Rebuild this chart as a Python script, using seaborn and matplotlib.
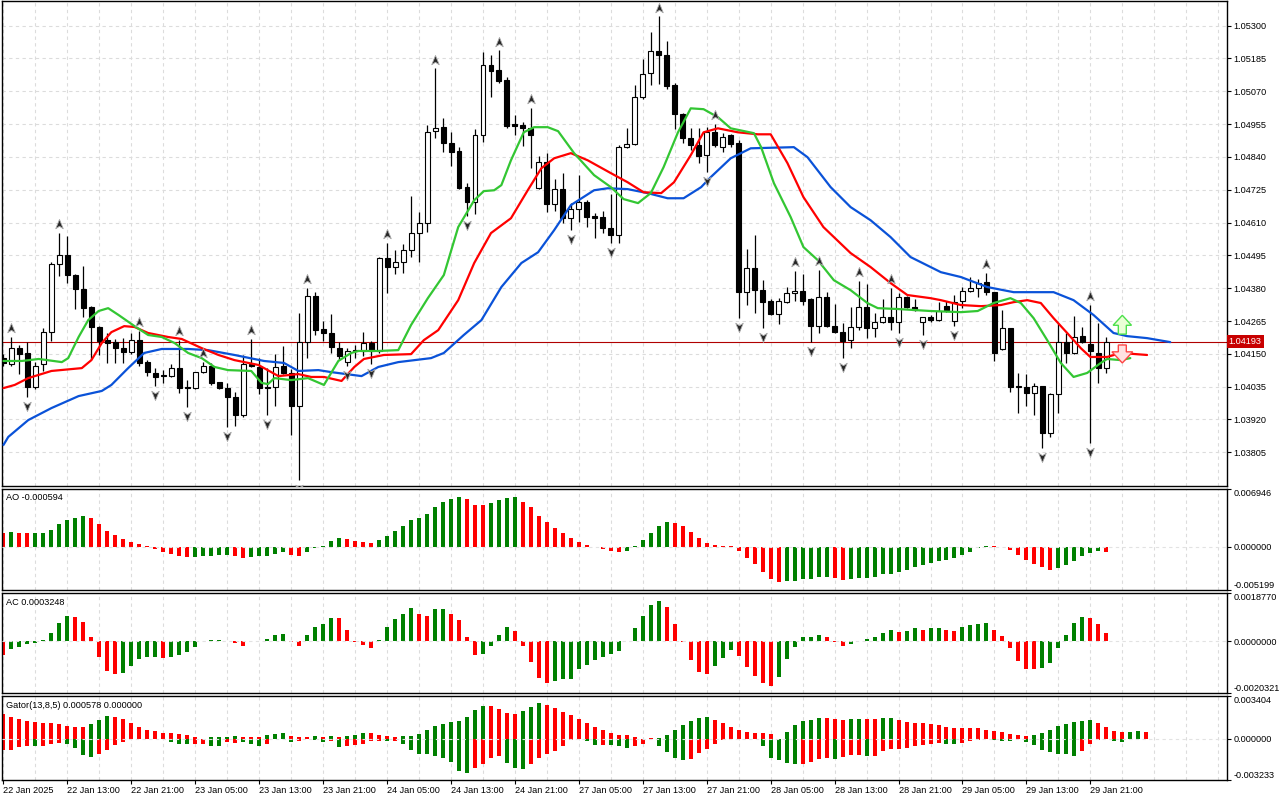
import numpy as np
import pandas as pd
import matplotlib
matplotlib.use("Agg")
import matplotlib.pyplot as plt
import matplotlib.transforms as mtransforms
from matplotlib.path import Path
from matplotlib.patches import FancyArrow
import seaborn as sns

# ---------------- data (EURUSD H1) ----------------
opens = [1.04135,1.04114,1.04170,1.04153,1.04034,1.04114,1.04226,1.04464,1.04496,1.04426,
         1.04377,1.04314,1.04244,1.04198,1.04191,1.04170,1.04156,1.04198,1.04121,1.04083,
         1.04076,1.04072,1.04100,1.04034,1.04030,1.04086,1.04107,1.04051,1.04030,1.03999,
         1.03936,1.04114,1.04104,1.04034,1.04034,1.04107,1.04083,1.03967,1.04191,1.04352,
         1.04237,1.04223,1.04170,1.04121,1.04163,1.04160,1.04188,1.04160,1.04485,1.04454,
         1.04471,1.04513,1.04573,1.04608,1.04930,1.04944,1.04888,1.04860,1.04734,1.04681,
         1.04916,1.05161,1.05143,1.05108,1.04954,1.04951,1.04940,1.04730,1.04821,1.04674,
         1.04727,1.04625,1.04657,1.04681,1.04632,1.04629,1.04590,1.04566,1.04874,1.04884,
         1.05049,1.05133,1.05210,1.05196,1.05091,1.04989,1.04905,1.04881,1.04846,1.04926,
         1.04874,1.04916,1.04888,1.04366,1.04450,1.04373,1.04335,1.04289,1.04331,1.04363,
         1.04370,1.04342,1.04247,1.04349,1.04247,1.04226,1.04198,1.04244,1.04314,1.04240,
         1.04261,1.04279,1.04261,1.04349,1.04314,1.04261,1.04279,1.04268,1.04317,1.04265,
         1.04335,1.04370,1.04380,1.04401,1.04366,1.04167,1.04240,1.04037,1.04034,1.04013,
         1.04037,1.03873,1.04009,1.04191,1.04153,1.04212,1.04184,1.04153,1.04100]
highs = [1.04149,1.04209,1.04181,1.04191,1.04121,1.04240,1.04471,1.04573,1.04562,1.04428,
         1.04457,1.04317,1.04246,1.04223,1.04202,1.04205,1.04222,1.04230,1.04128,1.04100,
         1.04093,1.04114,1.04198,1.04058,1.04088,1.04121,1.04118,1.04053,1.04048,1.04016,
         1.04146,1.04202,1.04135,1.04100,1.04149,1.04177,1.04097,1.04293,1.04380,1.04366,
         1.04265,1.04289,1.04191,1.04170,1.04181,1.04226,1.04195,1.04489,1.04538,1.04513,
         1.04534,1.04702,1.04646,1.04951,1.05150,1.04975,1.04926,1.04874,1.04748,1.04937,
         1.05206,1.05196,1.05213,1.05119,1.04986,1.04961,1.05010,1.04842,1.04853,1.04762,
         1.04783,1.04678,1.04776,1.04688,1.04643,1.04650,1.04709,1.04881,1.04940,1.05091,
         1.05182,1.05276,1.05332,1.05245,1.05098,1.04993,1.04940,1.04940,1.04944,1.04954,
         1.04923,1.04920,1.04898,1.04517,1.04566,1.04408,1.04342,1.04345,1.04384,1.04440,
         1.04429,1.04344,1.04443,1.04366,1.04324,1.04258,1.04314,1.04405,1.04394,1.04293,
         1.04342,1.04380,1.04363,1.04352,1.04342,1.04280,1.04286,1.04331,1.04335,1.04356,
         1.04384,1.04419,1.04412,1.04433,1.04368,1.04303,1.04242,1.04083,1.04079,1.04048,
         1.04039,1.04013,1.04258,1.04223,1.04282,1.04244,1.04321,1.04258,1.04209]
lows = [1.04107,1.04107,1.04079,1.03999,1.04027,1.04090,1.04195,1.04422,1.04398,1.04307,
        1.04279,1.04132,1.04146,1.04118,1.04118,1.04118,1.04149,1.04107,1.04072,1.04037,
        1.04048,1.04069,1.04013,1.03964,1.04027,1.04083,1.04041,1.04027,1.03894,1.03897,
        1.03929,1.04104,1.04009,1.03936,1.03967,1.04081,1.03866,1.03708,1.04135,1.04216,
        1.04195,1.04153,1.04128,1.04107,1.04135,1.04142,1.04114,1.04153,1.04363,1.04429,
        1.04433,1.04489,1.04471,1.04576,1.04905,1.04856,1.04807,1.04727,1.04632,1.04639,
        1.04891,1.05049,1.05098,1.04940,1.04916,1.04877,1.04800,1.04727,1.04646,1.04650,
        1.04608,1.04583,1.04611,1.04594,1.04555,1.04573,1.04538,1.04540,1.04870,1.04881,
        1.05042,1.05091,1.05094,1.05077,1.04937,1.04888,1.04863,1.04818,1.04786,1.04874,
        1.04856,1.04874,1.04275,1.04321,1.04293,1.04240,1.04286,1.04254,1.04328,1.04335,
        1.04321,1.04191,1.04223,1.04244,1.04224,1.04135,1.04170,1.04233,1.04205,1.04209,
        1.04258,1.04233,1.04223,1.04310,1.04300,1.04216,1.04261,1.04265,1.04296,1.04247,
        1.04310,1.04366,1.04349,1.04356,1.04125,1.04163,1.04016,1.03943,1.03967,1.03936,
        1.03820,1.03859,1.03943,1.04118,1.04149,1.04188,1.03838,1.04048,1.04083]
closes = [1.04118,1.04170,1.04149,1.04034,1.04107,1.04226,1.04464,1.04496,1.04426,1.04377,
          1.04310,1.04244,1.04195,1.04188,1.04170,1.04156,1.04198,1.04118,1.04086,1.04069,
          1.04072,1.04100,1.04030,1.04030,1.04086,1.04107,1.04048,1.04030,1.03999,1.03936,
          1.04114,1.04107,1.04030,1.04030,1.04104,1.04083,1.03967,1.04191,1.04352,1.04233,
          1.04223,1.04174,1.04142,1.04160,1.04160,1.04188,1.04160,1.04485,1.04454,1.04471,
          1.04513,1.04573,1.04608,1.04926,1.04940,1.04888,1.04856,1.04730,1.04681,1.04916,
          1.05161,1.05140,1.05105,1.04947,1.04947,1.04940,1.04916,1.04821,1.04674,1.04727,
          1.04625,1.04657,1.04681,1.04629,1.04625,1.04590,1.04566,1.04874,1.04884,1.05049,
          1.05129,1.05210,1.05196,1.05087,1.04989,1.04905,1.04881,1.04842,1.04926,1.04881,
          1.04909,1.04884,1.04366,1.04450,1.04373,1.04331,1.04289,1.04335,1.04363,1.04370,
          1.04335,1.04247,1.04349,1.04247,1.04226,1.04195,1.04244,1.04314,1.04240,1.04261,
          1.04279,1.04261,1.04349,1.04314,1.04303,1.04279,1.04268,1.04300,1.04303,1.04331,
          1.04370,1.04380,1.04398,1.04366,1.04153,1.04240,1.04034,1.04034,1.04013,1.04037,
          1.03873,1.04009,1.04191,1.04153,1.04209,1.04191,1.04160,1.04100,1.04193]

# Alligator lines (bar position, price)
jaw_pos = [0.0,0.6,3.1,6.0,9.4,12.3,13.5,15.6,17.6,19.8,23.1,25.6,28.9,32.6,35.1,36.9,39.4,41.0,44.8,46.9,
           49.4,53.5,55.1,57.6,59.8,62.3,64.8,66.9,68.9,71.0,73.9,75.6,78.1,80.6,83.1,85.1,87.3,88.5,91.0,93.5,
           98.9,100.6,103.5,106.0,108.5,111.0,113.5,117.3,119.8,123.1,126.4,131.4,133.9,136.4,138.9,140.6,143.1,146.0]
jaw_val = [1.03831,1.03859,1.03918,1.03960,1.04002,1.04020,1.04041,1.04100,1.04153,1.04167,
           1.04167,1.04163,1.04146,1.04125,1.04118,1.04090,1.04093,1.04086,1.04072,1.04104,
           1.04121,1.04135,1.04153,1.04216,1.04268,1.04384,1.04468,1.04506,1.04583,1.04671,
           1.04723,1.04730,1.04727,1.04713,1.04695,1.04695,1.04734,1.04769,1.04835,1.04870,
           1.04874,1.04839,1.04734,1.04664,1.04618,1.04559,1.04489,1.04436,1.04419,1.04384,
           1.04366,1.04366,1.04338,1.04286,1.04223,1.04212,1.04205,1.04191]
teeth_pos = [0.0,1.4,3.1,6.0,9.8,11.0,12.3,13.5,15.1,16.4,18.1,20.6,22.3,24.8,26.9,28.9,31.9,34.4,36.9,38.5,
             40.1,42.3,43.9,45.1,47.6,51.0,52.6,54.4,56.9,58.9,61.0,63.5,65.6,67.3,68.9,71.0,73.1,76.0,78.1,80.1,
             82.3,83.9,86.0,87.6,89.4,91.9,94.4,96.0,98.1,100.1,102.6,106.0,108.5,111.0,113.1,116.0,117.3,119.8,
             122.3,124.8,126.4,128.1,129.8,131.4,133.1,134.8,136.0,138.1,139.8,143.1]
teeth_val = [1.04030,1.04041,1.04065,1.04090,1.04100,1.04128,1.04188,1.04226,1.04247,1.04244,
             1.04223,1.04209,1.04202,1.04170,1.04146,1.04128,1.04111,1.04072,1.04079,1.04069,
             1.04069,1.04055,1.04104,1.04132,1.04146,1.04149,1.04198,1.04233,1.04338,1.04468,
             1.04573,1.04625,1.04723,1.04800,1.04835,1.04853,1.04828,1.04783,1.04751,1.04716,
             1.04713,1.04751,1.04846,1.04926,1.04940,1.04926,1.04919,1.04919,1.04818,1.04699,
             1.04594,1.04503,1.04454,1.04398,1.04356,1.04345,1.04338,1.04321,1.04317,1.04321,
             1.04331,1.04338,1.04328,1.04275,1.04223,1.04170,1.04139,1.04139,1.04153,1.04146]
lips_pos = [0.0,2.3,4.4,7.3,8.1,9.4,10.6,11.9,13.1,14.4,16.4,18.1,19.8,21.4,23.1,24.8,26.4,28.1,31.0,32.3,
            33.1,33.9,36.0,38.1,40.1,41.9,43.5,44.4,46.9,49.4,51.0,53.1,55.1,56.9,58.9,60.1,61.4,62.3,63.5,65.1,
            66.4,68.1,69.4,71.4,73.9,76.0,77.6,79.4,81.0,82.6,84.4,86.0,87.6,89.4,91.0,93.9,94.8,96.4,98.5,100.1,
            101.9,103.9,106.0,108.1,109.4,111.9,116.0,119.8,121.9,123.9,126.0,127.3,128.9,130.6,132.3,133.9,
            135.6,137.3,138.1,139.8,141.0]
lips_val = [1.04125,1.04125,1.04132,1.04121,1.04135,1.04209,1.04268,1.04300,1.04310,1.04286,
            1.04247,1.04216,1.04209,1.04188,1.04153,1.04135,1.04104,1.04093,1.04090,1.04048,
            1.04044,1.04065,1.04058,1.04065,1.04041,1.04125,1.04153,1.04160,1.04160,1.04163,
            1.04251,1.04345,1.04426,1.04594,1.04688,1.04720,1.04723,1.04741,1.04828,1.04926,
            1.04944,1.04944,1.04930,1.04853,1.04776,1.04734,1.04692,1.04678,1.04713,1.04804,
            1.04926,1.05010,1.05007,1.04979,1.04940,1.04923,1.04874,1.04748,1.04629,1.04524,
            1.04478,1.04408,1.04373,1.04328,1.04310,1.04307,1.04300,1.04296,1.04300,1.04328,
            1.04345,1.04328,1.04275,1.04198,1.04118,1.04069,1.04083,1.04118,1.04132,1.04128,
            1.04135]

fractal_up = [1,7,17,22,25,31,38,48,54,62,66,82,89,99,102,107,111,123,136]
fractal_dn = [3,19,23,28,33,37,43,46,58,71,76,88,92,95,101,105,112,115,119,130,136]

# signal arrows: bar, base price, tip price
sig_up = (140, 1.04219, 1.04285)
sig_dn = (140, 1.04181, 1.04118)
last_price = 1.04193

ao_vals = [0.00168,0.00176,0.00164,0.00163,0.00165,0.00166,0.00200,0.00264,0.00320,0.00344,
           0.00368,0.00344,0.00272,0.00188,0.00140,0.00096,0.00056,0.00032,0.00004,-0.00024,
           -0.00064,-0.00088,-0.00112,-0.00124,-0.00122,-0.00112,-0.00108,-0.00107,-0.00106,-0.00112,
           -0.00132,-0.00124,-0.00116,-0.00108,-0.00088,-0.00068,-0.00096,-0.00112,-0.00064,-0.00016,
           0.00008,0.00068,0.00104,0.00092,0.00068,0.00052,0.00044,0.00080,0.00128,0.00188,
           0.00240,0.00320,0.00344,0.00392,0.00476,0.00536,0.00572,0.00596,0.00568,0.00500,
           0.00498,0.00520,0.00560,0.00584,0.00596,0.00536,0.00476,0.00368,0.00292,0.00224,
           0.00164,0.00104,0.00056,0.00024,-0.00004,-0.00028,-0.00048,-0.00060,-0.00048,0.00004,
           0.00080,0.00164,0.00248,0.00296,0.00284,0.00248,0.00176,0.00104,0.00048,0.00020,
           0.00008,0.00004,-0.00048,-0.00132,-0.00204,-0.00300,-0.00384,-0.00420,-0.00418,-0.00412,
           -0.00384,-0.00383,-0.00364,-0.00363,-0.00380,-0.00396,-0.00384,-0.00380,-0.00379,-0.00360,
           -0.00332,-0.00324,-0.00300,-0.00276,-0.00240,-0.00216,-0.00192,-0.00168,-0.00164,-0.00132,
           -0.00096,-0.00060,-0.00020,0.00006,0.00004,-0.00004,-0.00036,-0.00096,-0.00160,-0.00204,
           -0.00240,-0.00276,-0.00252,-0.00216,-0.00168,-0.00108,-0.00076,-0.00056,-0.000594]
ao_cols = ("rgrrgggggg grrrrrrrrr rrrrgggggr rgggggrrgg gggrrrrggg ggggggggrr rggggrrrrr "
           "rrrrrrrrgg ggggrrrrrr rrrrrrrrgg ggggrrgggg gggggggggg ggggrrrrrr rrggggggr")
ac_vals = [-0.00054,-0.00031,-0.00023,-0.00013,-0.00007,0.00003,0.00030,0.00070,0.00099,0.00095,
           0.00073,0.00014,-0.00063,-0.00116,-0.00128,-0.00124,-0.00096,-0.00072,-0.00063,-0.00062,
           -0.00068,-0.00063,-0.00055,-0.00043,-0.00023,0.00001,0.00003,0.00003,-0.00001,-0.00009,
           -0.00019,-0.00001,0.00000,0.00008,0.00024,0.00028,-0.00003,-0.00019,0.00022,0.00053,
           0.00065,0.00090,0.00089,0.00042,-0.00004,-0.00016,-0.00027,0.00004,0.00054,0.00085,
           0.00105,0.00130,0.00105,0.00097,0.00126,0.00127,0.00105,0.00081,0.00016,-0.00055,
           -0.00051,-0.00020,0.00024,0.00054,0.00040,-0.00019,-0.00081,-0.00146,-0.00166,-0.00158,
           -0.00150,-0.00149,-0.00111,-0.00092,-0.00076,-0.00063,-0.00051,-0.00039,-0.00001,0.00049,
           0.00097,0.00142,0.00158,0.00134,0.00068,-0.00003,-0.00076,-0.00122,-0.00130,-0.00096,
           -0.00068,-0.00035,-0.00059,-0.00103,-0.00138,-0.00166,-0.00177,-0.00140,-0.00072,-0.00023,
           0.00016,0.00017,0.00024,0.00016,-0.00003,-0.00019,-0.00011,-0.00001,0.00008,0.00016,
           0.00032,0.00045,0.00036,0.00040,0.00049,0.00045,0.00049,0.00050,0.00045,0.00040,
           0.00054,0.00061,0.00065,0.00069,0.00045,0.00020,-0.00027,-0.00077,-0.00108,-0.00109,
           -0.00104,-0.00085,-0.00027,0.00024,0.00069,0.00093,0.00089,0.00065,0.0003248]
ac_cols = ("rggggggggr rrrrrggggg rgggggggrr rgggggrrgg ggrrrrrggg ggrrggrrrr ggggrrrrrg "
           "gggggggggg gggrrrrrrg ggrrrrrggg gggrrrgggg ggrggrggrr ggggrrrrrr ggggggrrr")
gator_up = [0.00197,0.00176,0.00158,0.00145,0.00134,0.00126,0.00125,0.00118,0.00103,0.00095,
            0.00094,0.00118,0.00150,0.00181,0.00171,0.00160,0.00124,0.00095,0.00071,0.00063,
            0.00047,0.00046,0.00037,0.00029,0.00011,0.00002,0.00011,0.00012,0.00016,0.00024,
            0.00016,0.00015,0.00014,0.00034,0.00039,0.00047,0.00024,0.00016,0.00012,0.00024,
            0.00016,0.00024,0.00018,0.00024,0.00034,0.00047,0.00046,0.00034,0.00024,0.00016,
            0.00024,0.00025,0.00039,0.00071,0.00103,0.00118,0.00134,0.00142,0.00174,0.00229,
            0.00260,0.00259,0.00237,0.00205,0.00197,0.00221,0.00252,0.00284,0.00268,0.00245,
            0.00213,0.00189,0.00158,0.00126,0.00095,0.00071,0.00047,0.00032,0.00030,0.00016,
            0.00001,0.00003,0.00008,0.00032,0.00071,0.00110,0.00142,0.00166,0.00174,0.00150,
            0.00126,0.00095,0.00071,0.00055,0.00047,0.00046,0.00039,0.00002,0.00055,0.00110,
            0.00142,0.00150,0.00166,0.00165,0.00158,0.00150,0.00158,0.00159,0.00157,0.00156,
            0.00166,0.00167,0.00150,0.00134,0.00126,0.00125,0.00118,0.00110,0.00095,0.00087,
            0.00086,0.00086,0.00085,0.00071,0.00063,0.00055,0.00039,0.00032,0.00024,0.00032,
            0.00047,0.00071,0.00103,0.00118,0.00134,0.00142,0.00150,0.00126,0.00095,0.00063,
            0.00055,0.00058,0.00060,0.000578]
gator_up_cols = ("rrrrrrrrrr rgggrrrrrr rrrrrrgggg rrrgggrrrg rgrgggrrrr gggggggggg grrrrgggrr "
                 "rrrrrrrrrr rrgggggggr rrrrrrrrgg gggrrrggrr ggrrrrrrrr rrrrrrrrrg gggggggrrr rggr")
gator_dn = [-0.00092,-0.00092,-0.00066,-0.00060,-0.00060,-0.00055,-0.00039,-0.00034,-0.00039,-0.00076,
            -0.00132,-0.00147,-0.00124,-0.00092,-0.00053,-0.00024,-0.00003,-0.00005,-0.00003,0.0,
            -0.00001,-0.00029,-0.00045,-0.00044,-0.00045,-0.00039,-0.00055,-0.00054,-0.00029,-0.00030,
            -0.00029,-0.00045,-0.00060,-0.00045,-0.00003,-0.00005,-0.00029,-0.00021,-0.00003,-0.00013,
            -0.00029,-0.00021,-0.00066,-0.00060,-0.00053,-0.00039,-0.00021,-0.00021,-0.00021,-0.00021,
            -0.00045,-0.00092,-0.00118,-0.00124,-0.00139,-0.00150,-0.00181,-0.00252,-0.00268,-0.00229,
            -0.00197,-0.00150,-0.00134,-0.00189,-0.00229,-0.00237,-0.00197,-0.00150,-0.00118,-0.00095,
            -0.00055,-0.00013,0.0,-0.00021,-0.00047,-0.00048,-0.00047,-0.00060,-0.00071,-0.00060,
            -0.00039,-0.00005,-0.00060,-0.00108,-0.00150,-0.00166,-0.00158,-0.00110,-0.00079,-0.00039,
            -0.00013,0.0,-0.00005,0.0,-0.00002,-0.00060,-0.00150,-0.00171,-0.00189,-0.00197,
            -0.00197,-0.00181,-0.00158,-0.00150,-0.00158,-0.00142,-0.00126,-0.00126,-0.00134,-0.00134,
            -0.00095,-0.00079,-0.00079,-0.00071,-0.00055,-0.00047,-0.00039,-0.00032,-0.00039,-0.00039,
            -0.00032,-0.00021,-0.00013,-0.00005,-0.00013,-0.00021,-0.00021,0.0,-0.00029,-0.00053,
            -0.00092,-0.00108,-0.00118,-0.00124,-0.00134,-0.00095,-0.00039,-0.00013,-0.00005,-0.00021,
            -0.00022,0.0,0.0,0.0]
gator_dn_cols = ("rrrrgrrrgg ggrrrrrrrr rgggrrggrr gggrrrgrgg grgrrrrrgr gggggggggr rrrgggrrrr "
                 "rrrggrgggr rrggggrrrr rrgrrggggg rrrrgrrrgr rrrrrrrrgg rrrrgggrgg gggggrrrrg gggg")

price_ticks = [1.03805,1.03920,1.04035,1.04150,1.04265,1.04380,1.04495,1.04610,
               1.04725,1.04840,1.04955,1.05070,1.05185,1.05300]
ao_ticks = [-0.005199, 0.0, 0.006946]
ao_ticklabels = ["-0.005199", "0.000000", "0.006946"]
ac_ticks = [-0.0020321, 0.0, 0.0018770]
ac_ticklabels = ["-0.0020321", "0.0000000", "0.0018770"]
gator_ticks = [-0.003233, 0.0, 0.003404]
gator_ticklabels = ["-0.003233", "0.000000", "0.003404"]
time_label_bars = [0,8,16,24,32,40,48,56,64,72,80,88,96,104,112,120,128,136]
time_labels = ["22 Jan 2025","22 Jan 13:00","22 Jan 21:00","23 Jan 05:00","23 Jan 13:00",
               "23 Jan 21:00","24 Jan 05:00","24 Jan 13:00","24 Jan 21:00","27 Jan 05:00",
               "27 Jan 13:00","27 Jan 21:00","28 Jan 05:00","28 Jan 13:00","28 Jan 21:00",
               "29 Jan 05:00","29 Jan 13:00","29 Jan 21:00"]
ao_title = "AO -0.000594"
ac_title = "AC 0.0003248"
gator_title = "Gator(13,8,5) 0.000578 0.000000"

# ---------------- styling ----------------
sns.set_theme(style="white")
plt.rcParams["font.family"] = ["Liberation Sans", "DejaVu Sans"]
FS = 6.6
GRID = "#dcdcdc"
DASH = (0, (3, 3))
PAL = {"g": "#008000", "r": "#ff0000"}

candles = pd.DataFrame({"bar": np.arange(len(opens)), "open": opens, "high": highs,
                        "low": lows, "close": closes})

fig = plt.figure(figsize=(12.8, 8), dpi=100)
W, H = 1280.0, 800.0
X0, X1 = 1.5, 1227.0


def panel(y0, y1):
    return fig.add_axes([X0 / W, 1 - y1 / H, (X1 - X0) / W, (y1 - y0) / H])


ax_m = panel(1, 486)
ax_ao = panel(488.5, 590)
ax_ac = panel(593, 693)
ax_g = panel(696, 779.5)
axes = [ax_m, ax_ao, ax_ac, ax_g]
XLIM = (-0.25, 153.1)

for ax in axes:
    ax.set_facecolor("white")
    for s in ax.spines.values():
        s.set_color("black")
        s.set_linewidth(1.0)
    ax.yaxis.tick_right()
    ax.tick_params(axis="y", which="both", right=True, left=False, length=3, width=0.8,
                   pad=1.5, labelsize=FS, colors="black")
    ax.tick_params(axis="x", bottom=False, labelbottom=False)
    for g in range(0, 154, 4):
        ax.axvline(g, color=GRID, lw=0.8, ls=DASH, zorder=0)

# ---------------- main chart ----------------
ax_m.set_ylim(1.03687, 1.05386)
ax_m.set_yticks(price_ticks)
ax_m.set_yticklabels([f"{t:.5f}" for t in price_ticks])
for t in price_ticks:
    ax_m.axhline(t, color=GRID, lw=0.8, ls=DASH, zorder=0)

bull = candles["close"] >= candles["open"]
ax_m.vlines(candles["bar"], candles["low"], candles["high"], color="black", lw=0.9, zorder=3)
body_lo = np.minimum(candles["open"], candles["close"])
body_h = np.maximum((candles["close"] - candles["open"]).abs(), 0.000012)
ax_m.bar(candles["bar"], body_h, bottom=body_lo, width=0.62,
         color=np.where(bull, "white", "black"), edgecolor="black", linewidth=0.8, zorder=4)

sns.lineplot(x=jaw_pos, y=jaw_val, ax=ax_m, color="#0a52d8", lw=1.6, estimator=None,
             sort=False, zorder=5)
sns.lineplot(x=teeth_pos, y=teeth_val, ax=ax_m, color="#ff0000", lw=1.6, estimator=None,
             sort=False, zorder=5)
sns.lineplot(x=lips_pos, y=lips_val, ax=ax_m, color="#33c633", lw=1.6, estimator=None,
             sort=False, zorder=5)

codes = [Path.MOVETO, Path.LINETO, Path.LINETO, Path.LINETO, Path.CLOSEPOLY]
up_marker = Path([(0, 1), (0.75, -0.85), (0, -0.35), (-0.75, -0.85), (0, 1)], codes)
dn_marker = Path([(0, -1), (0.75, 0.85), (0, 0.35), (-0.75, 0.85), (0, -1)], codes)
hi = np.array(highs)
lo = np.array(lows)
ax_m.scatter(fractal_up, hi[fractal_up] + 0.00031, marker=up_marker, s=52, c="#262626",
             edgecolors="#a8a8a8", linewidths=0.6, zorder=6)
ax_m.scatter(fractal_dn, lo[fractal_dn] - 0.00031, marker=dn_marker, s=52, c="#262626",
             edgecolors="#a8a8a8", linewidths=0.6, zorder=6)

ax_m.axhline(last_price, color="#b00000", lw=0.8, zorder=2)
blend = mtransforms.blended_transform_factory(ax_m.transAxes, ax_m.transData)
ax_m.text(1.0015, last_price, f"{last_price:.5f}", transform=blend, ha="left", va="center",
          fontsize=FS, color="white", clip_on=False, zorder=10,
          bbox=dict(boxstyle="square,pad=0.25", fc="#c80000", ec="none"))

ax_m.add_patch(FancyArrow(sig_up[0], sig_up[1], 0, sig_up[2] - sig_up[1], width=1.0,
                          head_width=2.3, head_length=0.00035, length_includes_head=True,
                          fc="#eaffd6", ec="#4de04d", lw=1.0, zorder=7))
ax_m.add_patch(FancyArrow(sig_dn[0], sig_dn[1], 0, sig_dn[2] - sig_dn[1], width=1.0,
                          head_width=2.6, head_length=0.00039, length_includes_head=True,
                          fc="#ffe0e0", ec="#ff4444", lw=1.0, zorder=7))


# ---------------- indicator panels ----------------
def hist(ax, vals, cols):
    df = pd.DataFrame({"bar": np.arange(len(vals)), "val": vals, "col": list(cols.replace(" ", ""))})
    sns.barplot(data=df, x="bar", y="val", hue="col", palette=PAL, native_scale=True,
                width=0.5, dodge=False, legend=False, errorbar=None, saturation=1,
                linewidth=0, orient="x", ax=ax, zorder=2)


hist(ax_ao, ao_vals, ao_cols)
hist(ax_ac, ac_vals, ac_cols)
hist(ax_g, gator_up, gator_up_cols)
hist(ax_g, gator_dn, gator_dn_cols)

for ax, lim, ticks, labels, title, ty in [
        (ax_ao, (-0.005199, 0.006946), ao_ticks, ao_ticklabels, ao_title, 0.956),
        (ax_ac, (-0.0020321, 0.0018770), ac_ticks, ac_ticklabels, ac_title, 0.95),
        (ax_g, (-0.003233, 0.003404), gator_ticks, gator_ticklabels, gator_title, 0.935)]:
    ax.set_ylim(lim)
    ax.set_yticks(ticks)
    ax.set_yticklabels(labels)
    mt = ax.yaxis.get_major_ticks()
    mt[0].label2.set_va("bottom")
    mt[-1].label2.set_va("top")
    ax.axhline(0, color="#e2e2e2", lw=0.8, ls=DASH, zorder=3)
    ax.text(0.0037, ty, title, transform=ax.transAxes, ha="left", va="top", fontsize=FS,
            color="black", zorder=10)

for ax in axes:
    ax.set_xlim(XLIM)
    ax.set_xlabel("")
    ax.set_ylabel("")

ax_g.set_xticks(time_label_bars)
ax_g.set_xticklabels(time_labels, ha="left")
ax_g.tick_params(axis="x", bottom=True, labelbottom=True, length=3, width=0.8,
                 direction="out", labelsize=FS, pad=2, colors="black")
ax_g.set_xlim(XLIM)

fig.savefig("out.png", dpi=100, facecolor="white")
